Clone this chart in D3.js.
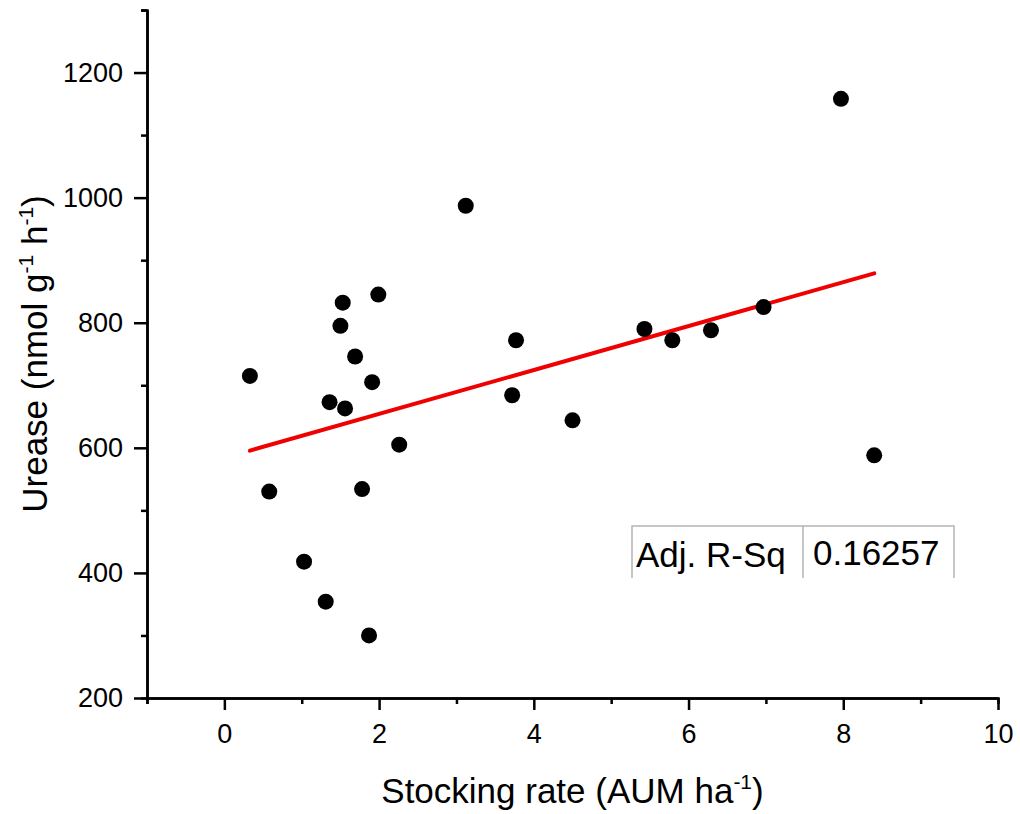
<!DOCTYPE html>
<html>
<head>
<meta charset="utf-8">
<script src="https://cdn.jsdelivr.net/npm/d3@7"></script>
<style>
	body { margin: 0; background: #fff; }
	text { font-family: "Liberation Sans", Arial, sans-serif; fill: #000; }
</style>
</head>
<body>
<div id="chart"></div>
<script>
// stocking rate (AUM ha-1) and urease activity
var stockingRate = [0.33, 0.58, 1.03, 1.31, 1.36, 1.50, 1.53, 1.56, 1.69, 1.78, 1.87, 1.91,
	1.99, 2.26, 3.12, 3.72, 3.77, 4.50, 5.43, 5.79, 6.29, 6.97, 7.97, 8.40];
var urease = [715, 530, 418, 354, 673, 795, 832, 663, 746, 534, 300, 705,
	845, 605, 987, 684, 772, 644, 790, 772, 788, 825, 1158, 588];

// linear fit shown in red
var fitIntercept = 584;
var fitSlope = 35.1;
var adjRSq = "0.16257";

var xMajorTicks = [0, 2, 4, 6, 8, 10];
var xMinorTicks = [-1, 1, 3, 5, 7, 9];
var yMajorTicks = [200, 400, 600, 800, 1000, 1200];
var yMinorTicks = [300, 500, 700, 900, 1100, 1300];

drawChart();

function drawChart() {
	var svgWidth = 1020,
		svgHeight = 814,
		margin = { top: 10, left: 147 },
		width = 851,
		height = 688;

	var svg = d3.select("#chart").append("svg")
		.attr("width", svgWidth)
		.attr("height", svgHeight);

	var g = svg.append("g")
		.attr("transform", "translate(" + margin.left + "," + margin.top + ")");

	var x = d3.scaleLinear().domain([-1, 10]).range([0, width]);
	var y = d3.scaleLinear().domain([200, 1300]).range([height, 0]);

	// minor ticks first, then the labelled axes
	g.append("g")
		.attr("transform", "translate(0," + height + ")")
		.call(d3.axisBottom(x).tickValues(xMinorTicks).tickSize(6).tickFormat(""))
		.call(styleAxis);
	g.append("g")
		.call(d3.axisLeft(y).tickValues(yMinorTicks).tickSize(6).tickFormat(""))
		.call(styleAxis);

	g.append("g")
		.attr("transform", "translate(0," + height + ")")
		.call(d3.axisBottom(x).tickValues(xMajorTicks).tickFormat(d3.format("d"))
			.tickSize(12).tickPadding(14).tickSizeOuter(0))
		.call(styleAxis);
	g.append("g")
		.call(d3.axisLeft(y).tickValues(yMajorTicks).tickFormat(d3.format("d"))
			.tickSize(13).tickPadding(11).tickSizeOuter(0))
		.call(styleAxis);

	// fit line over the range of the data
	var xr = d3.extent(stockingRate);
	g.append("path")
		.datum(xr)
		.attr("d", d3.line()
			.x(function(d) { return x(d); })
			.y(function(d) { return y(fitIntercept + fitSlope * d); }))
		.attr("stroke", "#f00000")
		.attr("stroke-width", 4)
		.attr("stroke-linecap", "round")
		.attr("fill", "none");

	g.append("g")
		.selectAll("circle")
		.data(stockingRate)
		.enter().append("circle")
		.attr("cx", function(d) { return x(d); })
		.attr("cy", function(d, i) { return y(urease[i]); })
		.attr("r", 8)
		.attr("fill", "#000");

	// axis titles
	var xt = svg.append("text")
		.attr("x", margin.left + width / 2)
		.attr("y", 803)
		.attr("text-anchor", "middle")
		.attr("font-size", 35);
	xt.append("tspan").text("Stocking rate (AUM ha");
	xt.append("tspan").attr("font-size", 21).attr("dy", -14).text("-1");
	xt.append("tspan").attr("dy", 14).text(")");

	var yt = svg.append("text")
		.attr("transform", "rotate(-90)")
		.attr("x", -(margin.top + height / 2))
		.attr("y", 47)
		.attr("text-anchor", "middle")
		.attr("font-size", 35);
	yt.append("tspan").text("Urease (nmol g");
	yt.append("tspan").attr("font-size", 21).attr("dy", -14).text("-1");
	yt.append("tspan").attr("dy", 14).text(" h");
	yt.append("tspan").attr("font-size", 21).attr("dy", -14).text("-1");
	yt.append("tspan").attr("dy", 14).text(")");

	// Adj. R-Sq table
	var tx = 632, ty = 526, colW = 171, tw = 322, th = 52;
	var tbl = svg.append("g");
	tbl.append("path")
		.attr("d", "M" + tx + "," + (ty + th) + "V" + ty + "H" + (tx + tw) + "V" + (ty + th)
			+ "M" + (tx + colW) + "," + ty + "V" + (ty + th))
		.attr("fill", "none")
		.attr("stroke", "#b4b4b4")
		.attr("stroke-width", 1.5);
	tbl.append("text")
		.attr("x", tx + 4)
		.attr("y", ty + 41)
		.attr("font-size", 35)
		.text("Adj. R-Sq");
	tbl.append("text")
		.attr("x", tx + colW + 10)
		.attr("y", ty + 39)
		.attr("font-size", 35)
		.text(adjRSq);
}

function styleAxis(sel) {
	sel.select(".domain").attr("stroke", "#000").attr("stroke-width", 2.5);
	sel.selectAll(".tick line").attr("stroke", "#000").attr("stroke-width", 2.5);
	sel.selectAll(".tick text")
		.attr("font-size", 27)
		.attr("font-family", "Liberation Sans, Arial, sans-serif")
		.attr("fill", "#000");
}
</script>
</body>
</html>
